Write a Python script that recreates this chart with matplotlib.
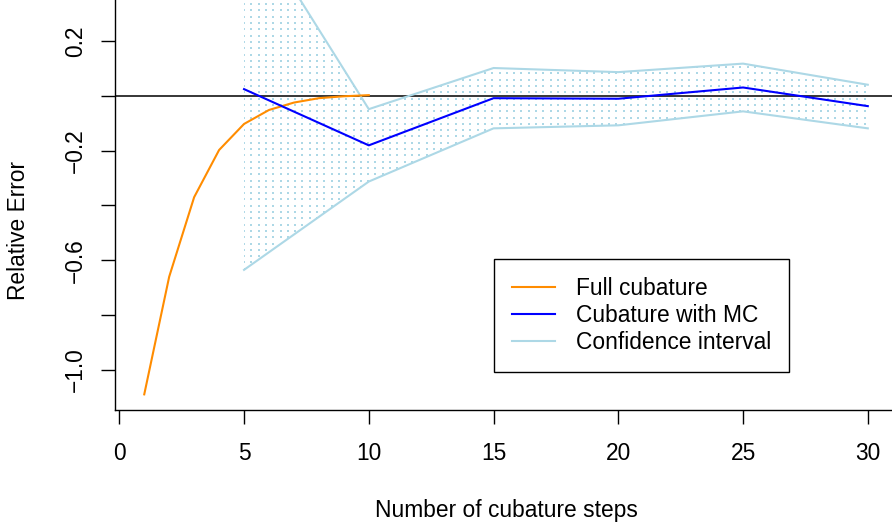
import numpy as np
import matplotlib
matplotlib.use("Agg")
import matplotlib.pyplot as plt
from matplotlib.patches import Polygon

# valeurs
steps_full = [1, 2, 3, 4, 5, 6, 7, 8, 9, 10]
err_full = [-1.089, -0.66, -0.370, -0.198, -0.103, -0.052, -0.025, -0.009, -0.002, 0.002]

steps_mc = [5, 10, 15, 20, 25, 30]
err_mc = [0.024, -0.181, -0.009, -0.011, 0.030, -0.038]
ci_upper = [0.676, -0.049, 0.101, 0.086, 0.117, 0.040]
ci_lower = [-0.635, -0.313, -0.119, -0.108, -0.057, -0.119]

xticks = [0, 5, 10, 15, 20, 25, 30]
yticks = [-1.0, -0.8, -0.6, -0.4, -0.2, 0.0, 0.2]
ytick_labels = ['\u22121.0', '', '\u22120.6', '', '\u22120.2', '', '0.2']

plt.rcParams['font.family'] = ['Liberation Sans', 'DejaVu Sans']
plt.rcParams['font.size'] = 16.4

W, H = 892, 530
fig = plt.figure(figsize=(W / 100, H / 100), dpi=100)
ax = fig.add_axes([115 / W, (H - 410) / H, (W - 115) / W, 410 / H])

ax.set_xlim(-0.172, 30.97)
ax.set_ylim(-1.146, 0.349)

# zone de confiance en pointillés
verts = np.column_stack([steps_mc + steps_mc[::-1], ci_upper + ci_lower[::-1]])
zone = Polygon(verts, closed=True, fill=False, edgecolor='none')
ax.add_patch(zone)
gx, gy = np.meshgrid(np.arange(5.0, 30.01, 0.2926), np.arange(-0.70, 0.70, 0.02298))
dots = ax.scatter(gx.ravel(), gy.ravel(), s=0.8, marker='s', color='#ADD8E6',
                  linewidths=0, zorder=1)
dots.set_clip_path(zone)

ax.axhline(0, color='black', lw=1.1, zorder=2)
ax.plot(steps_full, err_full, color='darkorange', lw=1.5, zorder=4, label='Full cubature')
ax.plot(steps_mc, err_mc, color='blue', lw=1.5, zorder=4, label='Cubature with MC')
ax.plot(steps_mc, ci_upper, color='lightblue', lw=1.5, zorder=3, label='Confidence interval')
ax.plot(steps_mc, ci_lower, color='lightblue', lw=1.5, zorder=3)

# axes style R
for s in ['top', 'right']:
    ax.spines[s].set_visible(False)
for s in ['left', 'bottom']:
    ax.spines[s].set_linewidth(1.0)

ax.set_xticks(xticks)
ax.set_yticks(yticks)
ax.set_yticklabels(ytick_labels)
ax.tick_params(length=10, width=1.0, direction='out')
ax.tick_params(axis='x', pad=13)
ax.tick_params(axis='y', pad=10, labelrotation=90)
for lab in ax.get_yticklabels():
    lab.set_va('center')

ax.set_xlabel('Number of cubature steps', va='center')
ax.xaxis.set_label_coords((506 - 115) / 777, (410 - 511) / 410)
ax.set_ylabel('Relative Error', va='center')
ax.yaxis.set_label_coords((18 - 115) / 777, (410 - 230) / 410)

leg = ax.legend(loc='upper left', bbox_to_anchor=(494 / W, 1 - 259 / H),
                bbox_transform=fig.transFigure, borderaxespad=0,
                fancybox=False, edgecolor='black', framealpha=1,
                borderpad=0.8, handlelength=1.88, handletextpad=0.92,
                labelspacing=0.17)
leg.get_frame().set_linewidth(1.0)

fig.savefig('out.png', dpi=100)
